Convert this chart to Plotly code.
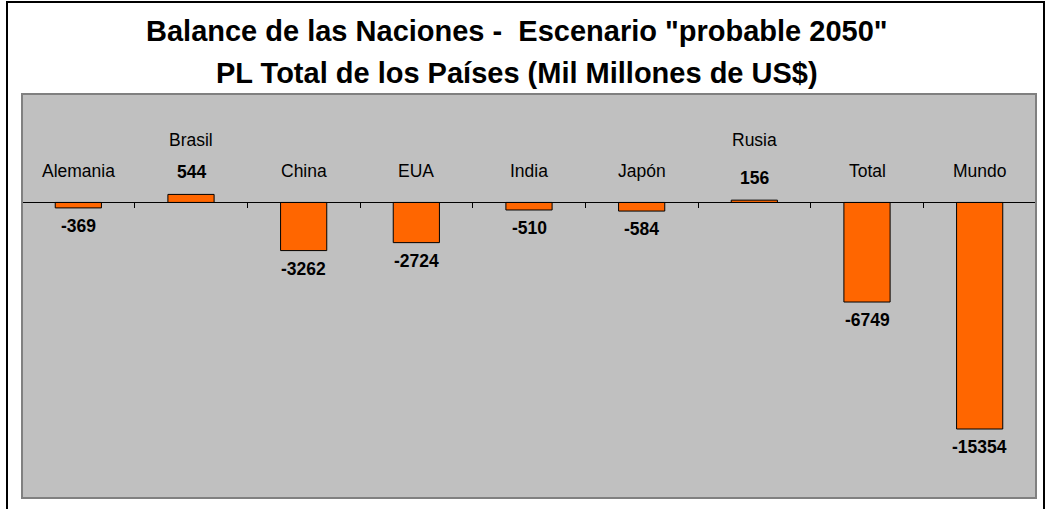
import plotly.graph_objects as go

categories = ["Alemania", "Brasil", "China", "EUA", "India", "Japón", "Rusia", "Total", "Mundo"]
values = [-369, 544, -3262, -2724, -510, -584, 156, -6749, -15354]

title_line1 = 'Balance de las Naciones -  Escenario "probable 2050"'
title_line2 = "PL Total de los Países (Mil Millones de US$)"

W, H = 1048, 509
L, R, T, B = 22, 12, 94, 11
ymin, ymax = -20030, 7350
zero_pos = (0 - ymin) / (ymax - ymin)

FONT = "Liberation Sans, Arial, sans-serif"
LBL = 17.5

fig = go.Figure()
fig.add_trace(go.Bar(
    x=categories, y=values, width=0.41,
    marker=dict(color="#FF6600", line=dict(color="#000000", width=1)),
    hoverinfo="x+y",
))

ann = []
for c, v in zip(categories, values):
    if v < 0:
        ann.append(dict(x=c, y=v, xref="x", yref="y", text=f"<b>{v}</b>", showarrow=False,
                        yanchor="middle", yshift=-18, font=dict(size=LBL, color="#000", family=FONT)))
        ann.append(dict(x=c, y=0, xref="x", yref="y", text=c, showarrow=False,
                        yanchor="middle", yshift=31, font=dict(size=LBL, color="#000", family=FONT)))
    else:
        ann.append(dict(x=c, y=v, xref="x", yref="y", text=f"<b>{v}</b>", showarrow=False,
                        yanchor="middle", yshift=22, font=dict(size=LBL, color="#000", family=FONT)))
        ann.append(dict(x=c, y=0, xref="x", yref="y", text=c, showarrow=False,
                        yanchor="middle", yshift=62, font=dict(size=LBL, color="#000", family=FONT)))

pw = W - L - R
ph = H - T - B
def px_x(p):
    return (p - L) / pw
def px_y(p):
    return (H - B - p) / ph

ann.append(dict(x=px_x(517), y=px_y(31), xref="paper", yref="paper", text=f"<b>{title_line1}</b>",
                xanchor="center", yanchor="middle",
                showarrow=False, font=dict(size=29, color="#000", family=FONT)))
ann.append(dict(x=px_x(517), y=px_y(73), xref="paper", yref="paper", text=f"<b>{title_line2}</b>",
                xanchor="center", yanchor="middle",
                showarrow=False, font=dict(size=29, color="#000", family=FONT)))

shapes = [
    dict(type="rect", xref="paper", yref="paper", x0=0, x1=1, y0=0, y1=1,
         line=dict(color="#808080", width=2), fillcolor="rgba(0,0,0,0)", layer="above"),
    dict(type="rect", xref="paper", yref="paper", x0=px_x(7), x1=px_x(1044), y0=px_y(540), y1=px_y(2),
         line=dict(color="#000000", width=2), fillcolor="rgba(0,0,0,0)"),
]

fig.update_layout(
    width=W, height=H,
    margin=dict(l=L, r=R, t=T, b=B),
    paper_bgcolor="#FFFFFF", plot_bgcolor="#C0C0C0",
    showlegend=False,
    annotations=ann, shapes=shapes,
    xaxis=dict(showticklabels=False, ticks="outside", tickson="boundaries", ticklen=5,
               tickcolor="#000", tickwidth=1, showline=True, linecolor="#000", linewidth=1,
               anchor="free", position=zero_pos, showgrid=False, zeroline=False),
    yaxis=dict(range=[ymin, ymax], showticklabels=False, showgrid=False, zeroline=False,
               ticks=""),
    font=dict(family=FONT),
)

fig.write_html("out.html", config={"displayModeBar": False},
               post_script="document.body.style.margin='0';document.body.style.overflow='hidden';")
